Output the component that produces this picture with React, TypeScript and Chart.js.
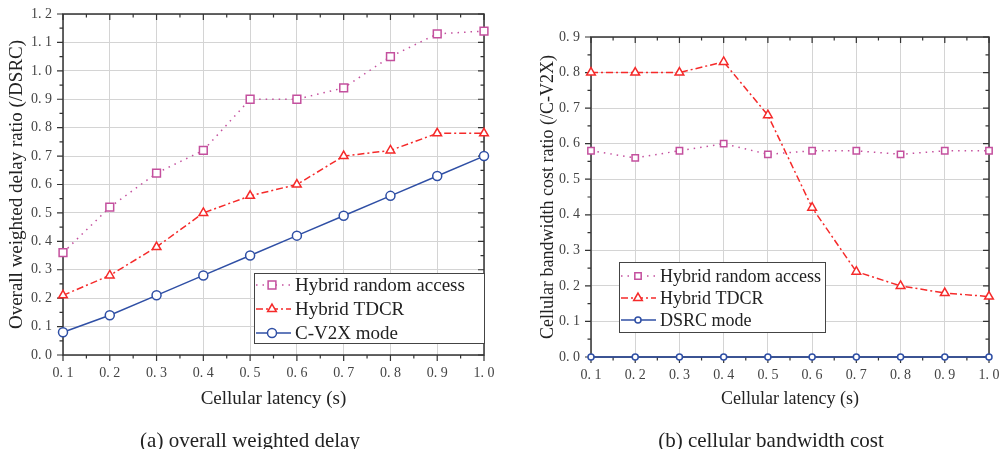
import React, { useEffect, useRef } from 'react';
import { Chart, registerables } from 'chart.js';

Chart.register(...registerables);

// ---------- data ----------
const latency = [0.1, 0.2, 0.3, 0.4, 0.5, 0.6, 0.7, 0.8, 0.9, 1.0];

const delayRandomAccess = [0.36, 0.52, 0.64, 0.72, 0.9, 0.9, 0.94, 1.05, 1.13, 1.14];
const delayTDCR = [0.21, 0.28, 0.38, 0.5, 0.56, 0.6, 0.7, 0.72, 0.78, 0.78];
const delayCV2X = [0.08, 0.14, 0.21, 0.28, 0.35, 0.42, 0.49, 0.56, 0.63, 0.7];

const costRandomAccess = [0.58, 0.56, 0.58, 0.6, 0.57, 0.58, 0.58, 0.57, 0.58, 0.58];
const costTDCR = [0.8, 0.8, 0.8, 0.83, 0.68, 0.42, 0.24, 0.2, 0.18, 0.17];
const costDSRC = [0, 0, 0, 0, 0, 0, 0, 0, 0, 0];

const seriesNamesA = ['Hybrid random access', 'Hybrid TDCR', 'C-V2X mode'];
const seriesNamesB = ['Hybrid random access', 'Hybrid TDCR', 'DSRC mode'];

const xTickValues = [0.1, 0.2, 0.3, 0.4, 0.5, 0.6, 0.7, 0.8, 0.9, 1.0];
const yTickValuesA = [0, 0.1, 0.2, 0.3, 0.4, 0.5, 0.6, 0.7, 0.8, 0.9, 1.0, 1.1, 1.2];
const yTickValuesB = [0, 0.1, 0.2, 0.3, 0.4, 0.5, 0.6, 0.7, 0.8, 0.9];

const xTitle = 'Cellular latency (s)';
const yTitleA = 'Overall weighted delay ratio (/DSRC)';
const yTitleB = 'Cellular bandwidth cost ratio (/C-V2X)';
const captionA = '(a) overall weighted delay';
const captionB = '(b) cellular bandwidth cost';

// ---------- styles ----------
const FONT = "'Liberation Serif', 'Times New Roman', serif";
const seriesStyles = [
  { color: '#c4509e', dash: [1.5, 5], point: 'rect' },
  { color: '#f52a2a', dash: [7, 3, 2, 3], point: 'triangle' },
  { color: '#2f4fa5', dash: [] as number[], point: 'circle' },
];

type Panel = {
  width: number;
  height: number;
  area: { left: number; top: number; right: number; bottom: number };
  yMax: number;
  yTicks: number[];
  series: number[][];
  names: string[];
  yTitle: string;
  caption: string;
  captionX: number;
  titleSize: number;
  yTitlePad: number;
  radii: number[];
  legend: { x: number; y: number; w: number; h: number; rows: number[]; markerX: number; textX: number; size: number };
};

const panelA: Panel = {
  width: 500,
  height: 449,
  area: { left: 63, top: 14, right: 484, bottom: 355 },
  yMax: 1.2,
  yTicks: yTickValuesA,
  series: [delayRandomAccess, delayTDCR, delayCV2X],
  names: seriesNamesA,
  yTitle: yTitleA,
  caption: captionA,
  captionX: 250,
  titleSize: 19,
  yTitlePad: 6,
  radii: [5.5, 5, 4.5],
  legend: { x: 254, y: 273, w: 230, h: 70, rows: [285, 309, 333], markerX: 272, textX: 295, size: 19 },
};

const panelB: Panel = {
  width: 501,
  height: 449,
  area: { left: 91, top: 37, right: 489, bottom: 357 },
  yMax: 0.9,
  yTicks: yTickValuesB,
  series: [costRandomAccess, costTDCR, costDSRC],
  names: seriesNamesB,
  yTitle: yTitleB,
  caption: captionB,
  captionX: 271,
  titleSize: 18,
  yTitlePad: 37,
  radii: [4.5, 5, 3],
  legend: { x: 119, y: 262, w: 206, h: 70, rows: [276, 298, 320], markerX: 138, textX: 160, size: 18 },
};

function drawMarker(ctx: CanvasRenderingContext2D, style: string, x: number, y: number, r: number) {
  ctx.beginPath();
  if (style === 'rect') {
    const s = Math.SQRT1_2 * r;
    ctx.rect(x - s, y - s, 2 * s, 2 * s);
  } else if (style === 'triangle') {
    let rad = 0;
    ctx.moveTo(x + Math.sin(rad) * r, y - Math.cos(rad) * r);
    rad += (2 * Math.PI) / 3;
    ctx.lineTo(x + Math.sin(rad) * r, y - Math.cos(rad) * r);
    rad += (2 * Math.PI) / 3;
    ctx.lineTo(x + Math.sin(rad) * r, y - Math.cos(rad) * r);
    ctx.closePath();
  } else {
    ctx.arc(x, y, r, 0, Math.PI * 2);
  }
  ctx.fill();
  ctx.stroke();
}

const fmt = (v: number) => Number(v).toFixed(1).replace('.', '. ');

function buildConfig(p: Panel): any {
  const framePlugin = {
    id: 'frameTicks',
    beforeDatasetsDraw(chart: any) {
      const { ctx, chartArea: a, scales } = chart;
      const xs = scales.x;
      const ys = scales.y;
      ctx.save();
      ctx.strokeStyle = '#333';
      ctx.lineWidth = 1.5;
      ctx.setLineDash([]);
      ctx.strokeRect(a.left, a.top, a.right - a.left, a.bottom - a.top);
      ctx.lineWidth = 1.2;
      ctx.beginPath();
      const nx = Math.round((xs.max - xs.min) / 0.05);
      for (let i = 0; i <= nx; i++) {
        const px = xs.getPixelForValue(xs.min + i * 0.05);
        const len = i % 2 === 0 ? 6 : 3.5;
        ctx.moveTo(px, a.bottom);
        ctx.lineTo(px, a.bottom + len);
        ctx.moveTo(px, a.top);
        ctx.lineTo(px, a.top + len);
      }
      const ny = Math.round((ys.max - ys.min) / 0.05);
      for (let i = 0; i <= ny; i++) {
        const py = ys.getPixelForValue(ys.min + i * 0.05);
        const len = i % 2 === 0 ? 6 : 3.5;
        ctx.moveTo(a.left, py);
        ctx.lineTo(a.left - len, py);
        ctx.moveTo(a.right, py);
        ctx.lineTo(a.right - len, py);
      }
      ctx.stroke();
      ctx.restore();
    },
  };

  const legendPlugin = {
    id: 'boxLegend',
    afterDraw(chart: any) {
      const { ctx } = chart;
      const L = p.legend;
      ctx.save();
      ctx.fillStyle = '#fff';
      ctx.fillRect(L.x, L.y, L.w, L.h);
      ctx.strokeStyle = '#444';
      ctx.lineWidth = 1;
      ctx.setLineDash([]);
      ctx.strokeRect(L.x + 0.5, L.y + 0.5, L.w, L.h);
      p.names.forEach((name, i) => {
        const st = seriesStyles[i];
        const y = L.rows[i];
        ctx.strokeStyle = st.color;
        ctx.lineWidth = 1.5;
        ctx.setLineDash(st.dash);
        ctx.beginPath();
        ctx.moveTo(L.x + 2, y);
        ctx.lineTo(L.textX - 4, y);
        ctx.stroke();
        ctx.setLineDash([]);
        ctx.fillStyle = '#fff';
        drawMarker(ctx, st.point, L.markerX, y, p.radii[i]);
        ctx.fillStyle = '#222';
        ctx.font = `${L.size}px ${FONT}`;
        ctx.textAlign = 'left';
        ctx.textBaseline = 'middle';
        ctx.fillText(name, L.textX, y + 1);
      });
      ctx.fillStyle = '#222';
      ctx.font = `21px ${FONT}`;
      ctx.textAlign = 'center';
      ctx.textBaseline = 'middle';
      ctx.fillText(p.caption, p.captionX, 441);
      ctx.restore();
    },
  };

  return {
    type: 'line',
    data: {
      datasets: p.series.map((arr, i) => ({
        label: p.names[i],
        data: latency.map((x, j) => ({ x, y: arr[j] })),
        borderColor: seriesStyles[i].color,
        backgroundColor: '#fff',
        borderWidth: 1.5,
        borderDash: seriesStyles[i].dash,
        pointStyle: seriesStyles[i].point,
        pointRadius: p.radii[i],
        pointBorderWidth: 1.5,
        pointBackgroundColor: '#fff',
        pointBorderColor: seriesStyles[i].color,
        tension: 0,
        fill: false,
        clip: false,
      })),
    },
    options: {
      responsive: false,
      animation: false,
      devicePixelRatio: 1,
      events: [],
      layout: { padding: { left: 0, top: p.area.top, right: p.width - p.area.right, bottom: 0 } },
      plugins: { legend: { display: false }, tooltip: { enabled: false }, title: { display: false } },
      scales: {
        x: {
          type: 'linear',
          min: 0.1,
          max: 1.0,
          afterFit: (s: any) => {
            s.height = p.height - p.area.bottom;
            s.paddingLeft = 0;
            s.paddingRight = 0;
          },
          afterBuildTicks: (s: any) => {
            s.ticks = xTickValues.map((v) => ({ value: v }));
          },
          ticks: {
            padding: 10,
            color: '#444',
            font: { family: FONT, size: 14 },
            maxRotation: 0,
            autoSkip: false,
            callback: (v: any) => fmt(v),
          },
          grid: { color: '#d4d4d4', lineWidth: 1, drawTicks: false },
          border: { display: false },
          title: {
            display: true,
            text: xTitle,
            color: '#222',
            font: { family: FONT, size: p.titleSize },
            padding: { top: 0, bottom: 50 - (p.titleSize * 1.2) / 2 },
          },
        },
        y: {
          type: 'linear',
          min: 0,
          max: p.yMax,
          afterFit: (s: any) => {
            s.width = p.area.left;
            s.paddingTop = 0;
            s.paddingBottom = 0;
          },
          afterBuildTicks: (s: any) => {
            s.ticks = p.yTicks.map((v) => ({ value: v }));
          },
          ticks: {
            padding: 11,
            color: '#444',
            font: { family: FONT, size: 14 },
            autoSkip: false,
            callback: (v: any) => fmt(v),
          },
          grid: { color: '#d4d4d4', lineWidth: 1, drawTicks: false },
          border: { display: false },
          title: {
            display: true,
            text: p.yTitle,
            color: '#222',
            font: { family: FONT, size: p.titleSize },
            padding: { top: p.yTitlePad, bottom: 0 },
          },
        },
      },
    },
    plugins: [framePlugin, legendPlugin],
  };
}

function ChartPanel({ panel, left }: { panel: Panel; left: number }) {
  const ref = useRef<HTMLCanvasElement>(null);
  useEffect(() => {
    const chart = new Chart(ref.current as HTMLCanvasElement, buildConfig(panel));
    return () => chart.destroy();
  }, [panel]);
  return (
    <canvas
      ref={ref}
      width={panel.width}
      height={panel.height}
      style={{ position: 'absolute', left, top: 0, width: panel.width, height: panel.height }}
    />
  );
}

export default function App() {
  return (
    <div style={{ position: 'fixed', left: 0, top: 0, width: 1001, height: 449, background: '#fff', overflow: 'hidden' }}>
      <ChartPanel panel={panelA} left={0} />
      <ChartPanel panel={panelB} left={500} />
    </div>
  );
}
